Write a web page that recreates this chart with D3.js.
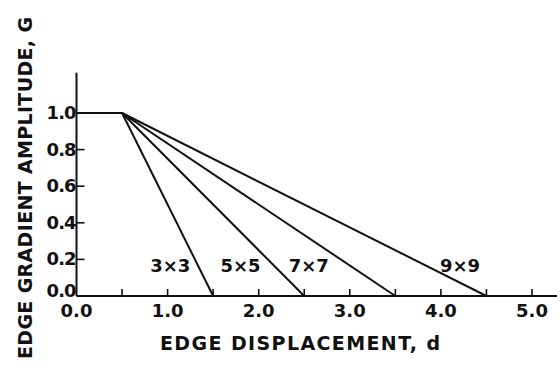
<!DOCTYPE html>
<html><head><meta charset="utf-8">
<script src="https://cdn.jsdelivr.net/npm/d3@7"></script>
<style>
html,body{margin:0;padding:0;background:#fff;}
svg text{font-family:"DejaVu Sans",sans-serif;font-weight:bold;fill:#111;}
</style></head>
<body><svg id="c" width="560" height="374"></svg>
<script>
const kernels = ["3×3","5×5","7×7","9×9"];
const zeroCrossings = [1.5, 2.5, 3.5, 4.5];
const plateau = [[0, 1.0], [0.5, 1.0]];
const labelX = [1.03, 1.80, 2.55, 4.21];
const labelY = [0.13, 0.13, 0.13, 0.13];
const xTickValues = [0,0.5,1,1.5,2,2.5,3,3.5,4,4.5,5];
const xTickLabels = ["0.0","1.0","2.0","3.0","4.0","5.0"];
const yTickLabels = ["0.0","0.2","0.4","0.6","0.8","1.0"];

const svg = d3.select("#c");
const x = d3.scaleLinear().domain([0,5]).range([76.5,532]);
const y = d3.scaleLinear().domain([0,1]).range([296,113]);
const ink = "#111";

// axes lines
svg.append("line").attr("x1",x(0)).attr("x2",557).attr("y1",y(0)).attr("y2",y(0))
  .attr("stroke",ink).attr("stroke-width",2);
svg.append("line").attr("x1",x(0)).attr("x2",x(0)).attr("y1",y(0)).attr("y2",y(1.22))
  .attr("stroke",ink).attr("stroke-width",2);

// x ticks (inside)
svg.selectAll(".xt").data(xTickValues.filter(v=>v>0)).enter().append("line")
  .attr("x1",d=>x(d)).attr("x2",d=>x(d)).attr("y1",y(0)).attr("y2",y(0)-7)
  .attr("stroke",ink).attr("stroke-width",1.6);
svg.selectAll(".xl").data(xTickLabels).enter().append("text")
  .attr("x",d=>x(+d)).attr("y",317).attr("text-anchor","middle")
  .attr("font-size",18).text(d=>d);

// y ticks
svg.selectAll(".yt").data(yTickLabels.filter(d=>+d>0 && +d<1)).enter().append("line")
  .attr("x1",x(0)).attr("x2",x(0)+8).attr("y1",d=>y(+d)).attr("y2",d=>y(+d))
  .attr("stroke",ink).attr("stroke-width",1.6);
svg.selectAll(".yl").data(yTickLabels).enter().append("text")
  .attr("x",x(0)-1).attr("y",d=>y(+d)+(+d===0?1:6)).attr("text-anchor","end")
  .attr("font-size",18).attr("letter-spacing",-1).text(d=>d);

// data lines
const line = d3.line().x(d=>x(d[0])).y(d=>y(d[1]));
svg.append("path").attr("d",line(plateau)).attr("fill","none").attr("stroke",ink).attr("stroke-width",2.2);
zeroCrossings.forEach((z,i)=>{
  svg.append("path").attr("d",line([plateau[1],[z,0]])).attr("fill","none")
    .attr("stroke",ink).attr("stroke-width",2);
});
svg.selectAll(".kl").data(kernels).enter().append("text")
  .attr("x",(d,i)=>x(labelX[i])).attr("y",(d,i)=>y(labelY[i]))
  .attr("text-anchor","middle").attr("font-size",18).text(d=>d);

// axis titles
svg.append("text").attr("x",300).attr("y",350).attr("text-anchor","middle")
  .attr("font-size",19).attr("textLength",280).attr("lengthAdjust","spacing")
  .text("EDGE DISPLACEMENT, d");
svg.append("text").attr("transform","translate(32,188) rotate(-90)")
  .attr("text-anchor","middle").attr("font-size",19)
  .attr("textLength",342).attr("lengthAdjust","spacing")
  .text("EDGE GRADIENT AMPLITUDE, G");
</script></body></html>
